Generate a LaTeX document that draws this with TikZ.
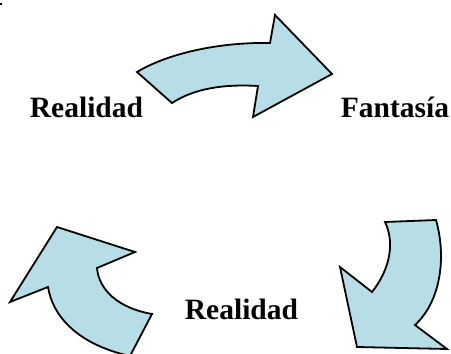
\documentclass[tikz,border=0pt]{standalone}
\usepackage{fontspec}
\setmainfont{Liberation Serif}
\definecolor{arrowfill}{RGB}{183,222,230}
\tikzset{
  bigarrow/.style={draw=black, fill=arrowfill, line width=1.8pt, line join=miter},
  lbl/.style={font=\bfseries\fontsize{29.5}{31}\selectfont, inner sep=0pt, anchor=base}
}
\begin{document}
\begin{tikzpicture}[x=1pt,y=-1pt]
\useasboundingbox (0,0) rectangle (451,354);
% tiny mark at top-left corner
\fill[black] (0,2.5) rectangle (1.5,5);
% top arrow (Realidad -> Fantasia)
\path[bigarrow] (137,72) .. controls (165,55) and (215,42) .. (270,43) -- (275,15) -- (332,74)
  -- (253,117) -- (258,86) .. controls (225,84) and (195,88) .. (172,103) -- cycle;
% bottom-right arrow
\path[bigarrow] (385,222) -- (436,220) .. controls (446,255) and (442,300) .. (415,325)
  -- (447,349) -- (357,347) -- (340,267) -- (372,292)
  .. controls (388,272) and (396,245) .. (385,222) -- cycle;
% bottom-left arrow
\path[bigarrow] (57,227) -- (135,252) -- (97,268) .. controls (99,290) and (118,308) .. (152,314)
  -- (130,356) .. controls (80,345) and (53,318) .. (48,287) -- (10,302) -- cycle;
% labels
\node[lbl] (realA) at (86.5,117) {Realidad};
\node[lbl] (fanta) at (395,117) {Fantasía};
\node[lbl] (realB) at (241.5,319) {Realidad};
\end{tikzpicture}
\end{document}
